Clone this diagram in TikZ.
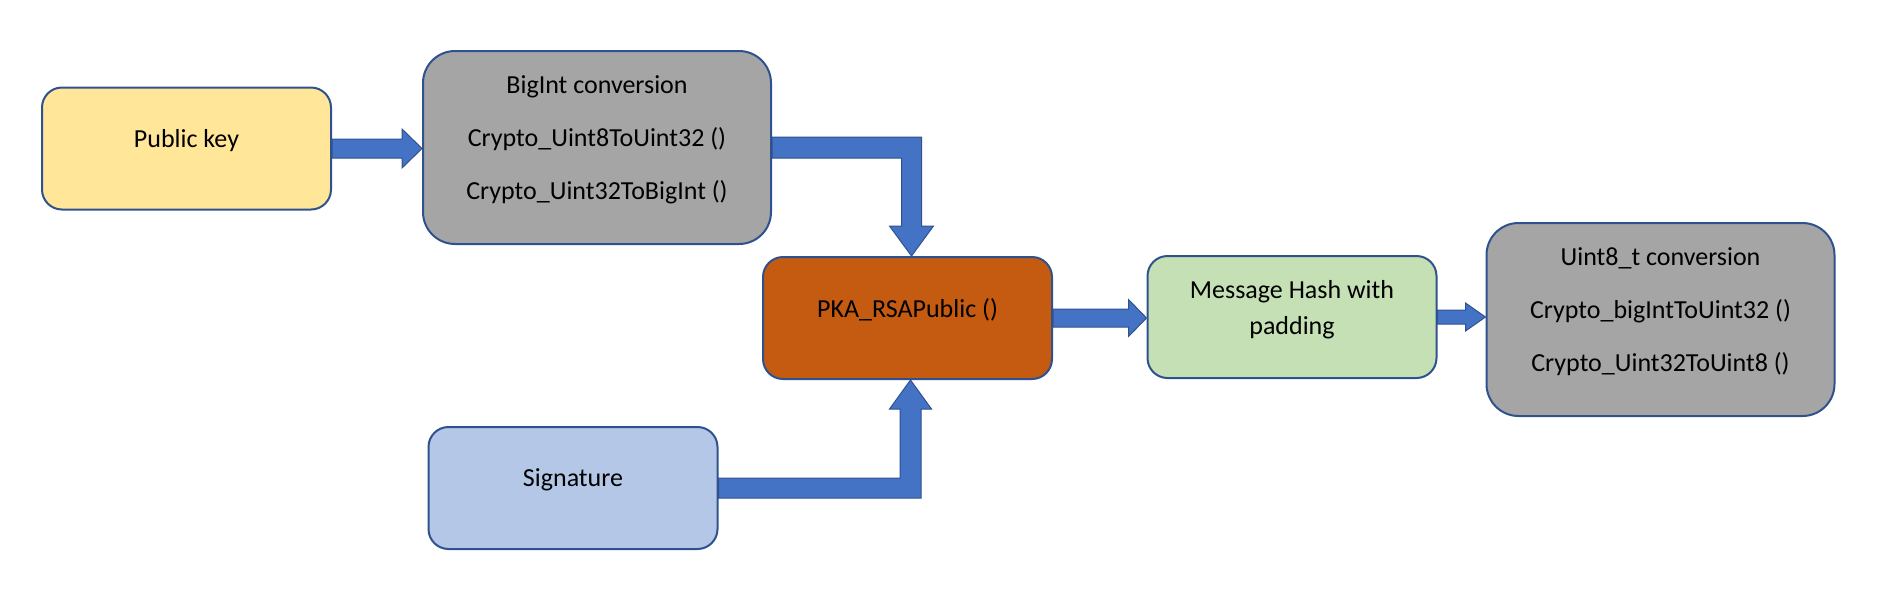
\documentclass[tikz,border=0pt]{standalone}
\usepackage{fontspec}
\setmainfont{Carlito}
\usetikzlibrary{calc}
\newcommand{\unitsize}{0.5pt}
\definecolor{boxedge}{HTML}{2F528F}
\definecolor{arrowblue}{HTML}{4472C4}
\definecolor{keyyellow}{HTML}{FFE699}
\definecolor{convgray}{HTML}{A5A5A5}
\definecolor{pkaorange}{HTML}{C55A11}
\definecolor{hashgreen}{HTML}{C5E0B4}
\definecolor{sigblue}{HTML}{B4C7E7}

\begin{document}
\begin{tikzpicture}
\useasboundingbox (0,0) rectangle (1896*\unitsize,-596*\unitsize);
\tikzstyle{every node}=[draw=boxedge,
			rectangle,
			line width=2*\unitsize,
			align=center,
			text depth=10pt,
			font=\fontsize{13}{18}\selectfont
			]
\tikzstyle{smallbox}=[rounded corners=20*\unitsize, minimum width=289*\unitsize, minimum height=122*\unitsize]
\tikzstyle{bigbox}=[fill=convgray, rounded corners=32*\unitsize, minimum width=348*\unitsize, minimum height=193*\unitsize]
\tikzstyle{blockarrow}=[fill=arrowblue, draw=boxedge, line width=1*\unitsize]


\node[smallbox, fill=keyyellow] (pub) at (186.5*\unitsize,-148.5*\unitsize) {Public key};


\node[bigbox] (big) at (597*\unitsize,-147.5*\unitsize) {BigInt conversion\\[8.5pt] Crypto\_Uint8ToUint32 ()\\[8.5pt] Crypto\_Uint32ToBigInt ()};


\node[smallbox, fill=pkaorange] (pka) at (907.5*\unitsize,-318*\unitsize) {PKA\_RSAPublic ()};


\node[smallbox, fill=hashgreen] (hash) at (1292*\unitsize,-317*\unitsize) {Message Hash with\\ padding};


\node[bigbox] (uint) at (1660.5*\unitsize,-319.5*\unitsize) {Uint8\_t conversion\\[8.5pt] Crypto\_bigIntToUint32 ()\\[8.5pt] Crypto\_Uint32ToUint8 ()};


\node[smallbox, fill=sigblue] (sig) at (573*\unitsize,-488*\unitsize) {Signature};


\coordinate (t1) at (pub.east -| big.west);
\coordinate (t2) at ($(pka.north)+(4*\unitsize,0)$);
\coordinate (e2) at (t2 |- big.east);
\coordinate (t3) at (hash.east -| uint.west);
\coordinate (t4) at ($(pka.south)+(3*\unitsize,0)$);
\coordinate (e4) at (t4 |- sig.east);
\coordinate (t5) at (pka.east -| hash.west);


\draw[blockarrow] ($(pub.east)+(0,9.5*\unitsize)$) -- ($(t1)+(-20*\unitsize,9.5*\unitsize)$) -- ($(t1)+(-20*\unitsize,19.5*\unitsize)$) -- (t1) -- ($(t1)+(-20*\unitsize,-19.5*\unitsize)$) -- ($(t1)+(-20*\unitsize,-9.5*\unitsize)$) -- ($(pub.east)+(0,-9.5*\unitsize)$) -- cycle;


\draw[blockarrow] ($(big.east)+(0,10.5*\unitsize)$) -- ($(e2)+(10*\unitsize,10.5*\unitsize)$) -- ($(t2)+(10*\unitsize,30*\unitsize)$) -- ($(t2)+(22*\unitsize,30*\unitsize)$) -- (t2) -- ($(t2)+(-22*\unitsize,30*\unitsize)$) -- ($(t2)+(-10*\unitsize,30*\unitsize)$) -- ($(e2)+(-10*\unitsize,-10.5*\unitsize)$) -- ($(big.east)+(0,-10.5*\unitsize)$) -- cycle;


\draw[blockarrow] ($(pka.east)+(0,9*\unitsize)$) -- ($(t5)+(-18*\unitsize,9*\unitsize)$) -- ($(t5)+(-18*\unitsize,18.5*\unitsize)$) -- (t5) -- ($(t5)+(-18*\unitsize,-18.5*\unitsize)$) -- ($(t5)+(-18*\unitsize,-9*\unitsize)$) -- ($(pka.east)+(0,-9*\unitsize)$) -- cycle;


\draw[blockarrow] ($(hash.east)+(0,7*\unitsize)$) -- ($(t3)+(-20*\unitsize,7*\unitsize)$) -- ($(t3)+(-20*\unitsize,14*\unitsize)$) -- (t3) -- ($(t3)+(-20*\unitsize,-14*\unitsize)$) -- ($(t3)+(-20*\unitsize,-7*\unitsize)$) -- ($(hash.east)+(0,-7*\unitsize)$) -- cycle;


\draw[blockarrow] ($(sig.east)+(0,10*\unitsize)$) -- ($(e4)+(-10.5*\unitsize,10*\unitsize)$) -- ($(t4)+(-10.5*\unitsize,-29*\unitsize)$) -- ($(t4)+(-21*\unitsize,-29*\unitsize)$) -- (t4) -- ($(t4)+(21*\unitsize,-29*\unitsize)$) -- ($(t4)+(10.5*\unitsize,-29*\unitsize)$) -- ($(e4)+(10.5*\unitsize,-10*\unitsize)$) -- ($(sig.east)+(0,-10*\unitsize)$) -- cycle;

\end{tikzpicture}
\end{document}
